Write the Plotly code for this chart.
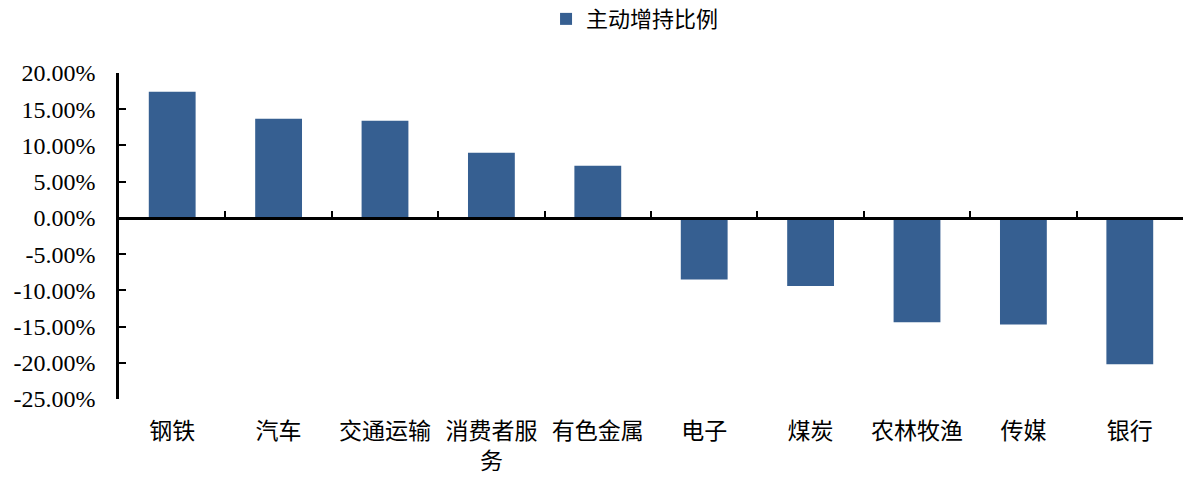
import plotly.graph_objects as go

categories = ["钢铁", "汽车", "交通运输", "消费者服<br>务", "有色金属", "电子", "煤炭", "农林牧渔", "传媒", "银行"]
values = [0.174, 0.137, 0.134, 0.090, 0.072, -0.085, -0.094, -0.144, -0.147, -0.202]
series_name = "主动增持比例"
y_tickvals = [0.20, 0.15, 0.10, 0.05, 0.0, -0.05, -0.10, -0.15, -0.20, -0.25]
y_ticktext = ["20.00%", "15.00%", "10.00%", "5.00%", "0.00%", "-5.00%", "-10.00%", "-15.00%", "-20.00%", "-25.00%"]

y_min, y_max = -0.25, 0.20
zero_pos = (0 - y_min) / (y_max - y_min)
x_range = [-0.5, len(categories) - 0.5]

SERIF = "'Liberation Serif', 'Times New Roman', serif"
CJK = "'Noto Sans CJK SC', sans-serif"
BAR_COLOR = "#365F91"

fig = go.Figure()
fig.add_trace(go.Bar(
    x=categories, y=values, name=series_name,
    marker=dict(color=BAR_COLOR, line=dict(width=0)),
    xaxis="x", yaxis="y",
))
# invisible helper trace so the zero-positioned axis carries the categories
fig.add_trace(go.Scatter(
    x=categories, y=values, mode="markers", marker=dict(opacity=0),
    showlegend=False, hoverinfo="skip", xaxis="x2", yaxis="y",
))

fig.update_layout(
    width=1194, height=477,
    margin=dict(l=119, r=11, t=73, b=78, autoexpand=False),
    paper_bgcolor="white", plot_bgcolor="white",
    font=dict(family=CJK, size=22, color="#000000"),
    bargap=0.56,
    showlegend=True,
    legend=dict(
        orientation="h", x=0.485, xanchor="center", y=0.96, yanchor="middle",
        yref="container", font=dict(family=CJK, size=22),
    ),
    xaxis=dict(
        type="category", range=x_range, autorange=False,
        showline=False, ticks="", showgrid=False, zeroline=False,
        tickfont=dict(family=CJK, size=23),
        ticklabelstandoff=16, automargin=False,
    ),
    xaxis2=dict(
        type="category", overlaying="x", matches="x", anchor="free", position=zero_pos,
        showline=True, linecolor="black", linewidth=2.5,
        ticks="inside", ticklen=6, tickwidth=2, tickcolor="black", tickson="boundaries",
        showticklabels=False, showgrid=False, zeroline=False, automargin=False,
    ),
    yaxis=dict(
        range=[y_min, y_max], tickvals=y_tickvals, ticktext=y_ticktext,
        showline=True, linecolor="black", linewidth=2.5,
        ticks="inside", ticklen=7, tickwidth=2, tickcolor="black",
        showgrid=False, zeroline=False,
        tickfont=dict(family=SERIF, size=24),
        ticklabelstandoff=16, automargin=False,
    ),
)

fig.write_html(
    "out.html",
    config={"displayModeBar": False},
    post_script="document.body.style.margin='0';",
)
